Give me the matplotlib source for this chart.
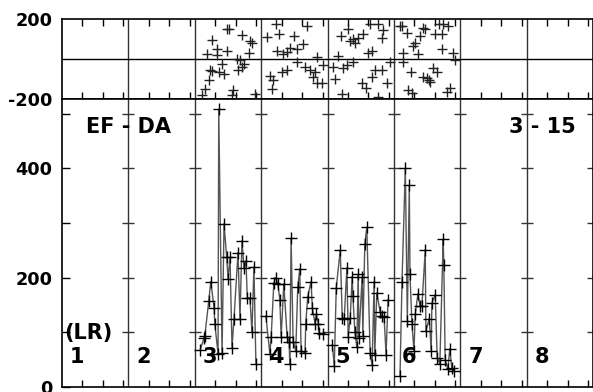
import matplotlib
matplotlib.use("Agg")
import matplotlib.pyplot as plt

# ---- data (time in day units, day n spans n-1 .. n) ----
# bottom panel: EF - DA series per day
t3 = [2.08, 2.14, 2.15, 2.21, 2.24, 2.29, 2.30, 2.35, 2.36, 2.41, 2.44, 2.48, 2.50,
      2.53, 2.56, 2.59, 2.65, 2.68, 2.71, 2.74, 2.77, 2.79, 2.83, 2.86, 2.89, 2.92]
v3 = [68, 90, 93, 158, 193, 145, 116, 61, 508, 62, 299, 237, 198,
      237, 72, 125, 246, 125, 268, 218, 231, 163, 163, 101, 220, 42]

t4 = [3.07, 3.13, 3.15, 3.19, 3.22, 3.25, 3.28, 3.30, 3.34, 3.39, 3.42, 3.43, 3.45, 3.48,
      3.52, 3.55, 3.58, 3.60, 3.66, 3.67, 3.70, 3.75, 3.77, 3.81, 3.83, 3.86, 3.87, 3.93]
v4 = [130, 61, 92, 191, 200, 189, 160, 92, 189, 92, 83, 42, 272, 83,
      66, 183, 216, 66, 62, 116, 165, 193, 145, 116, 134, 116, 99, 97]

t5 = [4.07, 4.10, 4.13, 4.19, 4.22, 4.25, 4.29, 4.31, 4.34, 4.37, 4.38, 4.41, 4.44, 4.46, 4.47,
      4.52, 4.53, 4.56, 4.59, 4.64, 4.67, 4.70, 4.71, 4.74, 4.79, 4.82, 4.85, 4.88, 4.91]
v5 = [77, 39, 182, 250, 127, 125, 218, 92, 127, 202, 167, 101, 73, 207, 90,
      202, 94, 262, 292, 62, 40, 193, 59, 172, 138, 130, 128, 59, 160]

t6 = [5.09, 5.12, 5.17, 5.20, 5.23, 5.24, 5.27, 5.30, 5.32, 5.36, 5.39, 5.42, 5.47, 5.48,
      5.53, 5.56, 5.57, 5.62, 5.65, 5.69, 5.74, 5.75, 5.77, 5.81, 5.84, 5.87, 5.90]
v6 = [20, 193, 400, 121, 369, 207, 116, 66, 134, 171, 149, 149, 251, 103,
      125, 66, 154, 169, 53, 42, 270, 224, 50, 33, 70, 35, 29]

# top panel: scatter (-200 .. 200)
s3_t = [2.48, 2.52, 2.71, 2.83, 2.86, 2.26, 2.33, 2.48, 2.18, 2.33, 2.82, 2.64, 2.41, 2.74,
        2.71, 2.26, 2.36, 2.44, 2.21, 2.15, 2.11, 2.58, 2.56, 2.91, 2.68, 2.23, 2.65]
s3_v = [152, 152, 122, 92, 78, 94, 50, 42, 25, 22, 28, -2, -25, -27,
        -42, -60, -67, -77, -105, -150, -180, -155, -180, -175, -7, -57, -57]

s4_t = [3.22, 3.69, 3.09, 3.27, 3.49, 3.63, 3.24, 3.39, 3.43, 3.33, 3.54, 3.84, 3.54,
        3.66, 3.74, 3.81, 3.39, 3.31, 3.13, 3.18, 3.78, 3.84, 3.92, 3.16, 3.93]
s4_v = [177, 167, 112, 127, 117, 77, 42, 37, 57, 27, 52, 12, -17,
        -42, -57, -67, -57, -67, -87, -107, -92, -122, -122, -152, -32]

s5_t = [4.31, 4.64, 4.76, 4.83, 4.53, 4.20, 4.38, 4.46, 4.82, 4.34, 4.41, 4.61, 4.67, 4.16,
        4.38, 4.29, 4.23, 4.94, 4.08, 4.71, 4.82, 4.67, 4.11, 4.90, 4.52, 4.58, 4.22, 4.76]
s5_v = [152, 177, 177, 147, 127, 117, 102, 107, 107, 92, 82, 32, 42, 17,
        -17, -32, -47, -17, -42, -57, -57, -92, -102, -122, -122, -147, -177, -192]

s6_t = [5.12, 5.09, 5.20, 5.44, 5.47, 5.68, 5.74, 5.81, 5.62, 5.72, 5.39, 5.32, 5.29, 5.14, 5.36,
        5.72, 5.89, 5.14, 5.92, 5.59, 5.65, 5.26, 5.44, 5.50, 5.53, 5.54, 5.84, 5.80, 5.21, 5.27]
s6_v = [167, 167, 132, 157, 152, 177, 177, 167, 127, 127, 117, 82, 67, 32, 27,
        52, 32, -17, -7, -47, -67, -67, -92, -95, -107, -117, -147, -167, -157, -172]

days = [1, 2, 3, 4, 5, 6, 7, 8]

INK = "black"
LINE = "#555555"
BOLD = dict(fontfamily="DejaVu Sans", fontweight="bold")

fig = plt.figure(figsize=(5.93, 3.92), dpi=100)
ax_top = fig.add_axes([0.1046, 0.7474, 0.8958, 0.2041])
ax_bot = fig.add_axes([0.1046, 0.0128, 0.8958, 0.7346])

xticks = [d + f for d in range(8) for f in (4 / 13, 8 / 13, 12 / 13)]

for ax in (ax_top, ax_bot):
    ax.set_xlim(0, 8)
    for s in ax.spines.values():
        s.set_linewidth(1.2)
        s.set_color(INK)
    for k in days[:-1]:
        ax.axvline(k, color="#333333", linewidth=1.0, zorder=1)
    ax.set_xticks(xticks)
    ax.tick_params(axis="x", direction="in", length=5, width=1, labelbottom=False)

# top panel
ax_top.set_ylim(-200, 200)
ax_top.axhline(0, color=INK, linewidth=1.0, zorder=1)
ax_top.set_yticks([-200, 200], ["-200", "200"])
ax_top.tick_params(axis="y", length=0, pad=7, labelsize=12.7)
ax_top.tick_params(axis="x", top=True, bottom=True)
for lab in ax_top.get_yticklabels():
    lab.set_fontweight("bold")
for tt, vv in ((s3_t, s3_v), (s4_t, s4_v), (s5_t, s5_v), (s6_t, s6_v)):
    ax_top.plot(tt, vv, ls="none", marker="+", markersize=7.5,
                markeredgewidth=1.0, color="#222222", zorder=3)

# bottom panel
ax_bot.set_ylim(0, 527)
ax_bot.set_yticks(range(0, 501, 100), ["0", "", "200", "", "400", ""])
ax_bot.tick_params(axis="y", direction="in", length=6, width=1, pad=7, labelsize=12.7)
ax_bot.tick_params(axis="x", top=False, bottom=True)
for lab in ax_bot.get_yticklabels():
    lab.set_fontweight("bold")

# crossing ticks on the day dividers
for k in days:
    ax_bot.plot([k] * 5, range(100, 501, 100), ls="none", marker="_",
                markersize=9, markeredgewidth=1.0, color="#333333",
                clip_on=False, zorder=2)

for tt, vv in ((t3, v3), (t4, v4), (t5, v5), (t6, v6)):
    ax_bot.plot(tt, vv, color=LINE, linewidth=1.0, zorder=3)
    ax_bot.plot(tt, vv, ls="none", marker="+", markersize=8,
                markeredgewidth=1.0, color=INK, zorder=4)

ax_bot.text(1.0, 476, "EF - DA", ha="center", va="center", fontsize=15, **BOLD)
ax_bot.text(7.24, 476, "3 - 15", ha="center", va="center", fontsize=15, **BOLD)
ax_bot.text(0.03, 99, "(LR)", ha="left", va="center", fontsize=15, **BOLD)
for d in days:
    ax_bot.text(d - 1 + 0.23, 55, str(d), ha="center", va="center", fontsize=15, **BOLD)

fig.savefig("out.png", dpi=100)
